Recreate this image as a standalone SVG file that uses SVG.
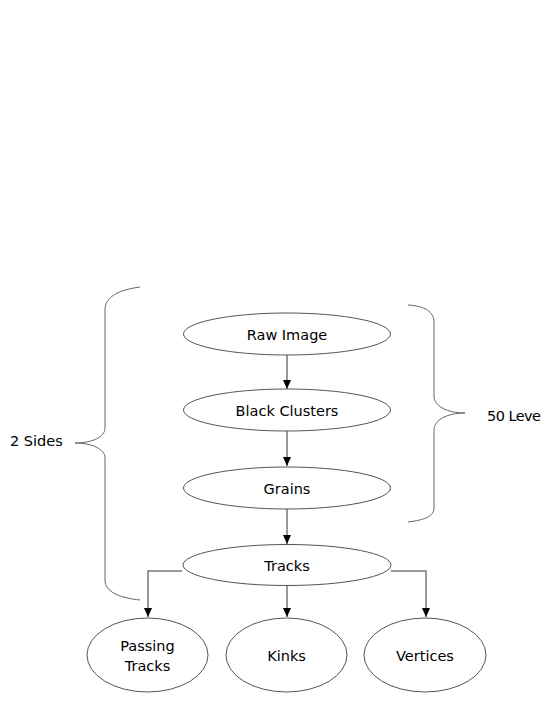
<svg xmlns="http://www.w3.org/2000/svg" width="545" height="705" viewBox="0 0 545 705">
<style>
.n{fill:#fff;stroke:#555;stroke-width:1}
.t{font-family:"DejaVu Sans",sans-serif;font-size:14.5px;fill:#000;text-anchor:middle}
.s{font-family:"DejaVu Sans",sans-serif;font-size:14.5px;fill:#000}
.l{fill:none;stroke:#777;stroke-width:1.5}
.b{fill:none;stroke:#666;stroke-width:1}
</style>
<defs>
<marker id="a" markerWidth="10" markerHeight="10" refX="9" refY="5" orient="auto" markerUnits="userSpaceOnUse">
<path d="M0,1 L9,5 L0,9 Z" fill="#000"/>
</marker>
</defs>
<rect width="545" height="705" fill="#fff"/>
<g id="connectors">
<line class="l" x1="287" y1="355" x2="287" y2="389" marker-end="url(#a)"/>
<line class="l" x1="287" y1="431" x2="287" y2="466" marker-end="url(#a)"/>
<line class="l" x1="287" y1="509" x2="287" y2="544" marker-end="url(#a)"/>
<polyline class="l" points="182,571 148,571 148,617" marker-end="url(#a)"/>
<line class="l" x1="287" y1="586" x2="287" y2="617" marker-end="url(#a)"/>
<polyline class="l" points="391,571 426,571 426,617" marker-end="url(#a)"/>
</g>
<g id="brace-left">
<path class="b" d="M140,287 C118,290 105,297 105,310 L105,428 C105,437 92,443 75,443 C92,443 105,449 105,458 L105,580 C105,592 120,598 140,600"/>
<text class="s" x="10" y="446">2 Sides</text>
</g>
<g id="brace-right">
<path class="b" d="M408,305 C425,306 434,312 434,322 L434,396 C434,406 447,413 465,413 C447,413 434,420 434,430 L434,508 C434,516 425,520 408,522"/>
<text class="s" x="487" y="421" textLength="54">50 Leve</text>
</g>
<g id="raw-image">
<ellipse class="n" cx="287" cy="334" rx="103.5" ry="21"/>
<text class="t" x="287" y="340">Raw Image</text>
</g>
<g id="black-clusters">
<ellipse class="n" cx="287" cy="410" rx="103.5" ry="21"/>
<text class="t" x="287" y="416">Black Clusters</text>
</g>
<g id="grains">
<ellipse class="n" cx="287" cy="488" rx="103.5" ry="21"/>
<text class="t" x="287" y="494">Grains</text>
</g>
<g id="tracks">
<ellipse class="n" cx="287" cy="565" rx="104" ry="20.5"/>
<text class="t" x="287" y="571">Tracks</text>
</g>
<g id="passing-tracks">
<ellipse class="n" cx="147.5" cy="655" rx="60.5" ry="37"/>
<text class="t" x="147.5" y="651">Passing</text>
<text class="t" x="147.5" y="671">Tracks</text>
</g>
<g id="kinks">
<ellipse class="n" cx="286.5" cy="655" rx="60.5" ry="37"/>
<text class="t" x="286.5" y="661">Kinks</text>
</g>
<g id="vertices">
<ellipse class="n" cx="425" cy="655" rx="61" ry="37"/>
<text class="t" x="425" y="661">Vertices</text>
</g>
</svg>
